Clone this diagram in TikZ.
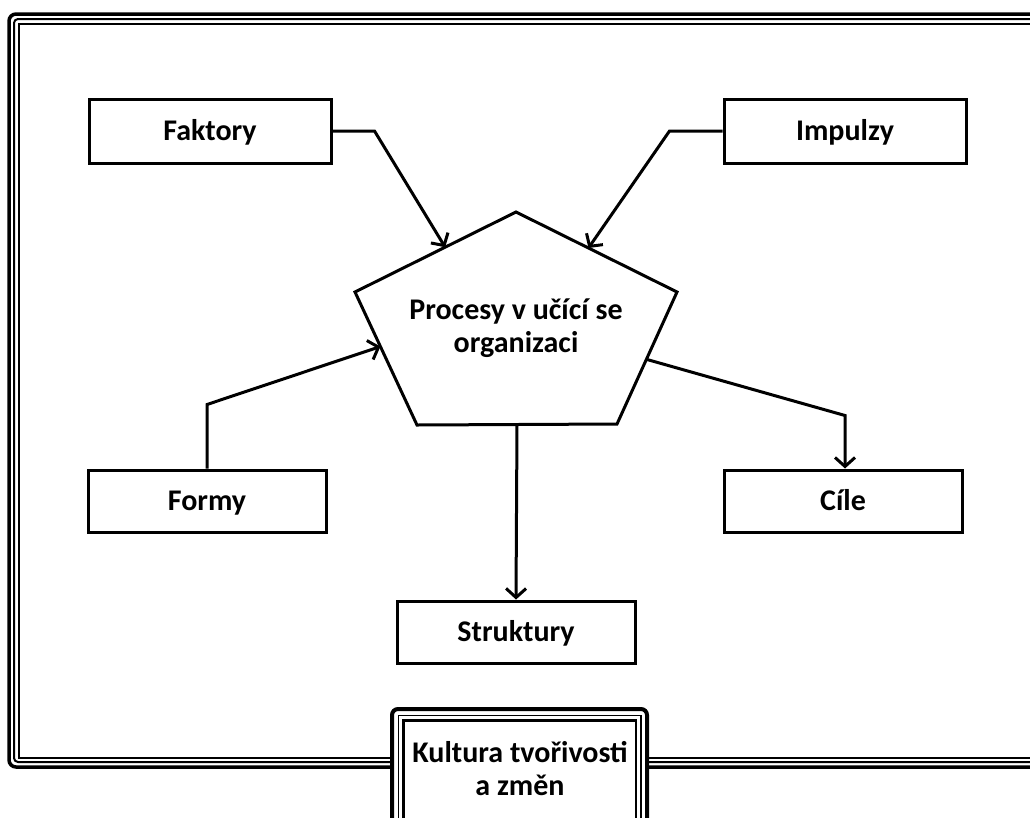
\documentclass[tikz,border=0pt]{standalone}
\usepackage{fontspec}
\setmainfont{Carlito}
\usetikzlibrary{arrows,arrows.meta,calc}

\begin{document}
\begin{tikzpicture}[x=1pt,y=-1pt,auto]
\tikzstyle{block} = [rectangle, draw=black, line width=3pt, fill=white,
minimum width=238pt, minimum height=62pt, text centered,
text height=24pt, text depth=6pt,
font=\fontsize{30}{34}\selectfont\bfseries]
\tikzstyle{label} = [align=center, inner sep=0pt,
font=\fontsize{30}{33}\selectfont\bfseries]
\tikzstyle{line} = [draw, line width=3pt, line join=miter,
-{Straight Barb[length=9pt,width=20pt,line width=3pt]}];
\tikzstyle{rim} = [draw=black, fill=none];

\clip (0,0) rectangle (1030,817);
% frame
\draw[rim, line width=3.5pt, rounded corners=7pt] (9,14) rectangle (1060,767);
\draw[rim, line width=2pt, rounded corners=4pt] (14,19) rectangle (1060,762);
\draw[rim, line width=2pt] (18.5,23.5) rectangle (1060,757.5);

% boxes
\node [block, minimum width=242pt, minimum height=64pt] (faktory) at (210,131) {Faktory};
\node [block, minimum width=242pt, minimum height=64pt] (impulzy) at (845,131) {Impulzy};
\node [block] (formy) at (207,501) {Formy};
\node [block] (cile) at (843,501) {Cíle};
\node [block] (struktury) at (516,632) {Struktury};

% pentagon
\coordinate (ptop) at (516,212);
\coordinate (pleft) at (355,292);
\coordinate (pright) at (677,292);
\coordinate (pbl) at (417,425);
\coordinate (pbr) at (617,424);
\draw[line width=3pt, line join=miter] (ptop) -- (pright) -- (pbr) -- (pbl) -- (pleft) -- cycle;
\node [label] (procesy) at (516,328) {Procesy v učící se\\organizaci};

% bottom box
\draw[rim, line width=4pt, fill=white, rounded corners=6pt] (392,709) rectangle (647,840);
\draw[rim, line width=1.5pt] (398.5,715.5) rectangle (641,840);
\draw[rim, line width=2.5pt] (403.5,720.5) rectangle (636,840);
\node [label] (kultura) at (520,769) {Kultura tvořivosti\\a změn};

% connectors
\path[line] (faktory.east) -- ++(42,0) -- ($(ptop)!0.44!(pleft)$);
\path[line] (impulzy.west) -- ++(-53,0) -- ($(ptop)!0.45!(pright)$);
\path[line] (formy.north) -- ++(0,-64) -- ($(pleft)!0.41!(pbl)$);
\path[line] ($(pright)!0.51!(pbr)$) -- ($(cile.north)+(2,-53)$) -- ($(cile.north)+(2,0)$);
\path[line] ($(pbl)!0.5!(pbr)$) -- (struktury.north);

\end{tikzpicture}
\end{document}
